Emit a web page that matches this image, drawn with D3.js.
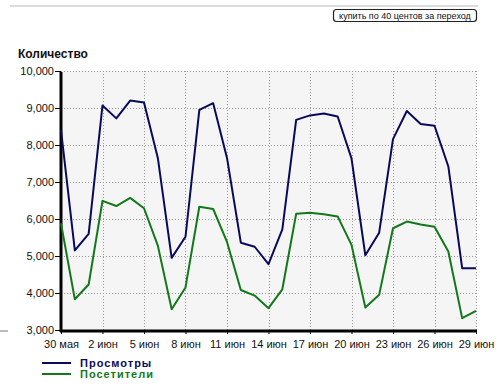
<!DOCTYPE html>
<html>
<head>
<meta charset="utf-8">
<script src="https://cdn.jsdelivr.net/npm/d3@7"></script>
<style>
  body { margin: 0; background: #fff; }
  svg { display: block; font-family: "Liberation Sans", Arial, sans-serif; }
</style>
</head>
<body>
<svg width="500" height="389"></svg>
<script>
// данные: 30 мая .. 29 июн
var startDate = new Date(2009, 4, 30);
var prosmotry = [8400, 5150, 5600, 9070, 8720, 9200, 9150, 7650, 4950, 5520,
  8950, 9130, 7650, 5360, 5250, 4780, 5720, 8680, 8800, 8850,
  8770, 7640, 5020, 5630, 8160, 8920, 8570, 8520, 7420, 4670, 4670];
var posetiteli = [5880, 3830, 4230, 6490, 6350, 6570, 6290, 5280, 3560, 4150,
  6330, 6270, 5380, 4080, 3930, 3590, 4100, 6140, 6170, 6130,
  6070, 5300, 3610, 3950, 5750, 5930, 5850, 5790, 5120, 3320, 3520];
var yTicks = [3000, 4000, 5000, 6000, 7000, 8000, 9000, 10000];
var months = ["янв","фев","мар","апр","мая","июн","июл","авг","сен","окт","ноя","дек"];
var series = [
  {name: "Просмотры", values: prosmotry, color: "#0a0a5a"},
  {name: "Посетители", values: posetiteli, color: "#13781a"}
];

var svg = d3.select("svg");
var x0 = 61, x1 = 476, y0 = 330, y1 = 71;

var days = d3.range(prosmotry.length).map(function(i) {
  return d3.timeDay.offset(startDate, i);
});
var x = d3.scaleTime().domain([days[0], days[days.length - 1]]).range([x0, x1]);
var y = d3.scaleLinear().domain([3000, 10000]).range([y0, y1]);
var tickDays = days.filter(function(d, i) { return i % 3 == 0; });

// верхняя серая линия и кнопка
svg.append("line").attr("x1", 10).attr("x2", 478).attr("y1", 6).attr("y2", 6)
  .attr("stroke", "#dcdcdc").attr("stroke-width", 2);
svg.append("rect").attr("x", 333.5).attr("y", 9.5).attr("width", 143).attr("height", 12)
  .attr("rx", 3).attr("fill", "#fff").attr("stroke", "#222").attr("stroke-width", 1.2);
svg.append("text").attr("x", 405).attr("y", 19).attr("text-anchor", "middle")
  .attr("font-size", 9).attr("fill", "#111").text("купить по 40 центов за переход");

// заголовок оси
svg.append("text").attr("x", 18).attr("y", 58).attr("font-size", 12)
  .attr("font-weight", "bold").attr("fill", "#111").text("Количество");

// фон графика
svg.append("rect").attr("x", x0).attr("y", y1).attr("width", x1 - x0).attr("height", y0 - y1)
  .attr("fill", "#f5f5f5");

// сетка
var grid = svg.append("g").attr("stroke", "#999").attr("stroke-dasharray", "1,2").attr("stroke-width", 1);
yTicks.slice(1).forEach(function(v) {
  grid.append("line").attr("x1", x0).attr("x2", x1)
    .attr("y1", Math.round(y(v)) + 0.5).attr("y2", Math.round(y(v)) + 0.5);
});
tickDays.slice(1).forEach(function(d) {
  grid.append("line").attr("x1", Math.round(x(d)) + 0.5).attr("x2", Math.round(x(d)) + 0.5)
    .attr("y1", y1).attr("y2", y0);
});

// оси
var yAxis = svg.append("g").attr("transform", "translate(" + x0 + ",0)")
  .call(d3.axisLeft(y).tickValues(yTicks).tickFormat(d3.format(",")).tickSize(6).tickPadding(1));
yAxis.select(".domain").remove();
yAxis.selectAll(".tick line").attr("stroke", "#000").attr("stroke-width", 1);
yAxis.selectAll("text").attr("font-size", 11).attr("fill", "#111").attr("font-family", "Liberation Sans, Arial, sans-serif");
svg.append("line").attr("x1", x0).attr("x2", x0).attr("y1", y1 + 1).attr("y2", y0 + 2)
  .attr("stroke", "#000").attr("stroke-width", 3);

var xAxis = svg.append("g").attr("transform", "translate(0," + y0 + ")")
  .call(d3.axisBottom(x).tickValues(tickDays).tickSize(4).tickPadding(6)
    .tickFormat(function(d) { return d.getDate() + " " + months[d.getMonth()]; }));
xAxis.select(".domain").remove();
xAxis.selectAll(".tick line").attr("stroke", "#000");
xAxis.selectAll("text").attr("font-size", 11).attr("fill", "#111").attr("font-family", "Liberation Sans, Arial, sans-serif");
svg.append("line").attr("x1", x0 - 1).attr("x2", x1 + 1).attr("y1", y0 + 1).attr("y2", y0 + 1)
  .attr("stroke", "#000").attr("stroke-width", 3);

// маленькая серая черта слева
svg.append("line").attr("x1", 0).attr("x2", 8).attr("y1", 331).attr("y2", 331)
  .attr("stroke", "#777").attr("stroke-width", 1);

// линии
var line = d3.line()
  .x(function(d, i) { return x(days[i]); })
  .y(function(d) { return y(d); });
series.forEach(function(s) {
  svg.append("path").datum(s.values).attr("d", line)
    .attr("fill", "none").attr("stroke", s.color).attr("stroke-width", 2)
    .attr("stroke-linejoin", "round");
});

// легенда
series.forEach(function(s, i) {
  var ly = 363 + i * 11;
  svg.append("line").attr("x1", 42).attr("x2", 71).attr("y1", ly).attr("y2", ly)
    .attr("stroke", s.color).attr("stroke-width", 2);
  svg.append("text").attr("x", 80).attr("y", ly + 4).attr("font-size", 11)
    .attr("font-weight", "bold").attr("letter-spacing", 1).attr("fill", s.color).text(s.name);
});
</script>
</body>
</html>
